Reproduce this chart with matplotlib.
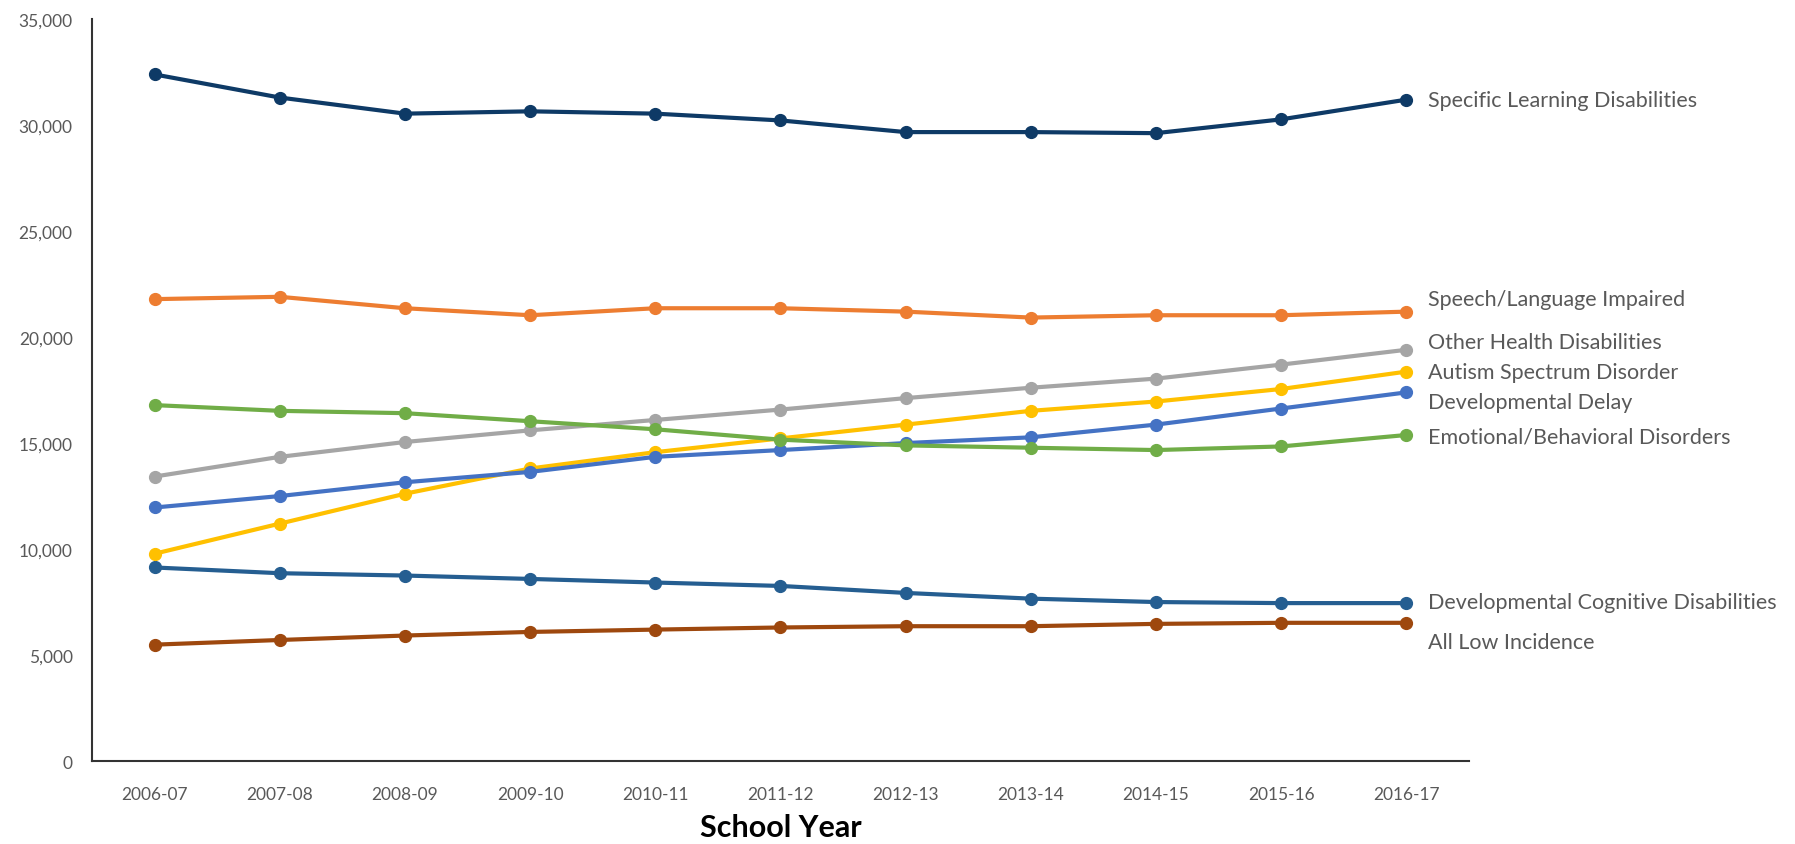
import matplotlib.pyplot as plt
from matplotlib.ticker import FuncFormatter

years = ['2006-07', '2007-08', '2008-09', '2009-10', '2010-11', '2011-12',
         '2012-13', '2013-14', '2014-15', '2015-16', '2016-17']

specific_learning = [32390, 31300, 30540, 30650, 30540, 30220, 29670, 29670, 29620, 30270, 31200]
speech_language = [21790, 21900, 21360, 21030, 21360, 21360, 21200, 20920, 21030, 21030, 21200]
other_health = [13420, 14350, 15050, 15600, 16090, 16580, 17120, 17610, 18040, 18700, 19400]
autism = [9780, 11200, 12610, 13800, 14570, 15220, 15870, 16520, 16960, 17550, 18370]
dev_delay = [11960, 12500, 13150, 13640, 14350, 14670, 15000, 15270, 15870, 16630, 17390]
emotional = [16790, 16520, 16410, 16030, 15650, 15160, 14890, 14780, 14670, 14840, 15380]
dev_cognitive = [9130, 8860, 8750, 8590, 8420, 8260, 7930, 7660, 7500, 7450, 7450]
low_incidence = [5490, 5710, 5920, 6090, 6200, 6300, 6360, 6360, 6470, 6520, 6520]

series = [
    ('Specific Learning Disabilities', specific_learning, '#0e3a66', 31196),
    ('Speech/Language Impaired', speech_language, '#ed7d31', 21793),
    ('Other Health Disabilities', other_health, '#a5a5a5', 19783),
    ('Autism Spectrum Disorder', autism, '#ffc000', 18370),
    ('Developmental Delay', dev_delay, '#4472c4', 16957),
    ('Emotional/Behavioral Disorders', emotional, '#70ad47', 15326),
    ('Developmental Cognitive Disabilities', dev_cognitive, '#255e91', 7500),
    ('All Low Incidence', low_incidence, '#9e480e', 5598),
]

plt.rcParams['font.family'] = ['Lato', 'DejaVu Sans']

fig = plt.figure(figsize=(17.95, 8.45), dpi=100)
ax = fig.add_axes([0.0513, 0.0982, 0.767, 0.878])

x = list(range(len(years)))
draw_order = [6, 7, 1, 2, 3, 4, 5, 0]
for i in draw_order:
    name, vals, color, label_y = series[i]
    ax.plot(x, vals, color=color, lw=3, marker='o', ms=8.5, solid_capstyle='round')

for name, vals, color, label_y in series:
    ax.text(len(years) - 1 + 0.17, label_y, name, fontsize=15.5, color='#595959',
            va='center', ha='left', clip_on=False)

ax.set_xlim(-0.5, len(years) - 0.5)
ax.set_ylim(0, 35000)
ax.set_xticks(x)
ax.set_xticklabels(years)
ax.set_yticks(range(0, 35001, 5000))
ax.yaxis.set_major_formatter(FuncFormatter(lambda v, p: f'{int(v):,}'))
ax.tick_params(axis='both', length=0, labelsize=12.5, labelcolor='#595959')
ax.tick_params(axis='x', pad=18)
ax.tick_params(axis='y', pad=14)

for side in ['top', 'right']:
    ax.spines[side].set_visible(False)
ax.spines['left'].set_color('#333333')
ax.spines['bottom'].set_color('#333333')
ax.spines['left'].set_linewidth(1.5)
ax.spines['bottom'].set_linewidth(1.5)

ax.set_xlabel('School Year', fontsize=22, fontweight='bold', color='black', labelpad=8)

fig.savefig('out.png', dpi=100)
